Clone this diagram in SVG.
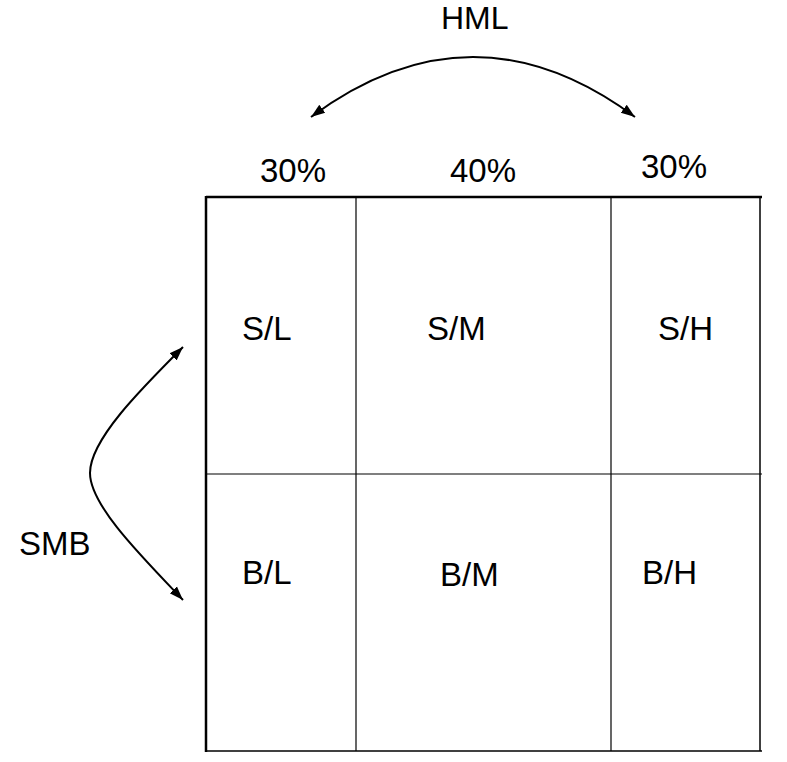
<svg xmlns="http://www.w3.org/2000/svg" width="787" height="762" viewBox="0 0 787 762">
<style>
.t{font-family:"Liberation Sans",Arial,sans-serif;font-size:33px;fill:#000}
.g{stroke:#000;fill:none}
.c{stroke:#000;stroke-width:2;fill:none}
</style>
<defs>
<marker id="ah" markerUnits="userSpaceOnUse" markerWidth="15" markerHeight="12" refX="14" refY="5" orient="auto-start-reverse" viewBox="0 0 15 10">
<path d="M0,0 L14,5 L0,10 Z" fill="#000"/>
</marker>
</defs>
<rect width="787" height="762" fill="#fff"/>
<g id="grid">
<line class="g" x1="206" y1="197" x2="762" y2="197" stroke-width="2.5"/>
<line class="g" x1="206" y1="196" x2="206" y2="752" stroke-width="2.5"/>
<line class="g" x1="206" y1="751" x2="762" y2="751" stroke-width="1.5"/>
<line class="g" x1="760" y1="197" x2="760" y2="751" stroke-width="1.5"/>
<line class="g" x1="356" y1="197" x2="356" y2="751" stroke-width="1.2"/>
<line class="g" x1="611" y1="197" x2="611" y2="751" stroke-width="1.2"/>
<line class="g" x1="206" y1="474" x2="762" y2="474" stroke-width="1.2"/>
</g>
<g id="connectors">
<path class="c" d="M311,117 Q473,-3 635,117" marker-start="url(#ah)" marker-end="url(#ah)"/>
<path class="c" d="M183,347 C140,390 90,440 90,473 C90,505 140,555 183,600" marker-start="url(#ah)" marker-end="url(#ah)"/>
</g>
<g id="hml"><text class="t" x="441" y="29" style="font-size:32px">HML</text></g>
<g id="smb"><text class="t" x="19" y="555">SMB</text></g>
<g id="p1"><text class="t" x="260" y="182">30%</text></g>
<g id="p2"><text class="t" x="450" y="182">40%</text></g>
<g id="p3"><text class="t" x="641" y="178">30%</text></g>
<g id="SL"><text class="t" x="242" y="340">S/L</text></g>
<g id="SM"><text class="t" x="427" y="340">S/M</text></g>
<g id="SH"><text class="t" x="658" y="340">S/H</text></g>
<g id="BL"><text class="t" x="242" y="584">B/L</text></g>
<g id="BM"><text class="t" x="440" y="586">B/M</text></g>
<g id="BH"><text class="t" x="642" y="584">B/H</text></g>
</svg>
